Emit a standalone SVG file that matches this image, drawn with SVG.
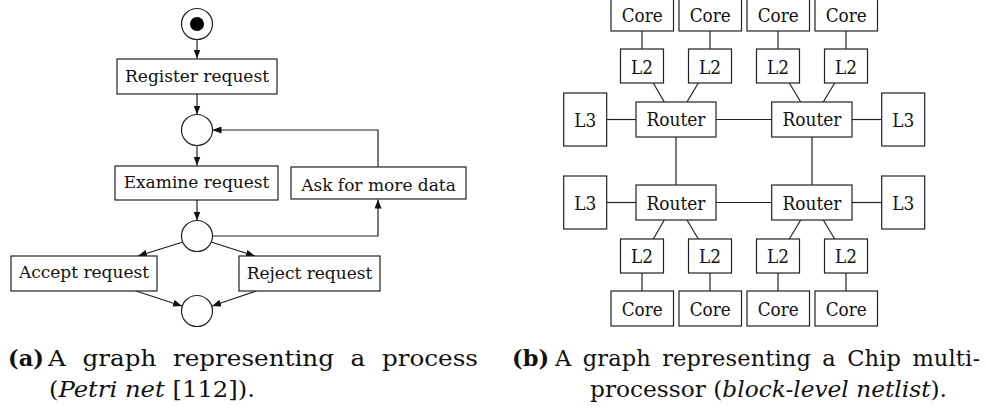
<svg xmlns="http://www.w3.org/2000/svg" width="986" height="413" viewBox="0 0 986 413">
<style>
.bx{fill:#fff;stroke:#222;stroke-width:1.2}
.pl{fill:#fff;stroke:#222;stroke-width:1.2}
.ln{fill:none;stroke:#222;stroke-width:1.2}
.ar{fill:none;stroke:#222;stroke-width:1.2;marker-end:url(#ah)}
.tl{font-family:"DejaVu Serif",serif;font-size:17px;fill:#111;text-anchor:middle}
.tr{font-family:"DejaVu Serif",serif;font-size:19px;fill:#111;text-anchor:middle}
.cap{font-family:"DejaVu Serif",serif;font-size:22.5px;fill:#111}
.b{font-weight:bold}
.i{font-style:italic}
</style>
<defs>
<marker id="ah" markerUnits="userSpaceOnUse" markerWidth="9" markerHeight="7" refX="9" refY="3.5" orient="auto">
<path d="M0,0 L9,3.5 L0,7 z" fill="#111"/>
</marker>
</defs>
<rect width="986" height="413" fill="#fff"/>

<g id="connectors-a">
<line class="ar" x1="197" y1="39.5" x2="197" y2="58.5"/>
<line class="ar" x1="197" y1="94" x2="197" y2="114.5"/>
<line class="ar" x1="197" y1="145.5" x2="197" y2="165.5"/>
<line class="ar" x1="197" y1="200" x2="197" y2="220.5"/>
<line class="ar" x1="183" y1="242" x2="138" y2="256"/>
<line class="ar" x1="211" y1="242" x2="255" y2="256"/>
<line class="ar" x1="136" y1="291" x2="182" y2="306"/>
<line class="ar" x1="256" y1="291" x2="212" y2="306"/>
<path class="ar" d="M212.5,236 H378 V199.5"/>
<path class="ar" d="M378,167 V130 H212.5"/>
</g>

<g id="start"><circle class="pl" cx="197" cy="24" r="15.5"/><circle cx="197" cy="24" r="7" fill="#000"/></g>
<g id="register"><rect class="bx" x="117" y="59" width="160" height="35"/><text class="tl" x="197" y="81.5">Register request</text></g>
<g id="p1"><circle class="pl" cx="197" cy="130" r="15.5"/></g>
<g id="examine"><rect class="bx" x="115" y="166" width="163" height="34"/><text class="tl" x="196.5" y="188.3">Examine request</text></g>
<g id="ask"><rect class="bx" x="291" y="167" width="175" height="32"/><text class="tl" x="378.5" y="190.5">Ask for more data</text></g>
<g id="p2"><circle class="pl" cx="197" cy="236" r="15.5"/></g>
<g id="accept"><rect class="bx" x="11" y="256" width="146" height="35"/><text class="tl" x="84" y="278">Accept request</text></g>
<g id="reject"><rect class="bx" x="239" y="256" width="141" height="35"/><text class="tl" x="309.5" y="278.5">Reject request</text></g>
<g id="p3"><circle class="pl" cx="197" cy="311" r="15.5"/></g>

<g id="connectors-b">
<line class="ln" x1="642" y1="31" x2="642" y2="49"/>
<line class="ln" x1="710" y1="31" x2="710" y2="49"/>
<line class="ln" x1="778" y1="31" x2="778" y2="49"/>
<line class="ln" x1="846" y1="31" x2="846" y2="49"/>
<line class="ln" x1="653.3" y1="83" x2="664.3" y2="102"/>
<line class="ln" x1="698.3" y1="83" x2="687" y2="102"/>
<line class="ln" x1="789.3" y1="83" x2="800.7" y2="102"/>
<line class="ln" x1="834.7" y1="83" x2="823.3" y2="102"/>
<line class="ln" x1="606.7" y1="119.5" x2="636" y2="119.5"/>
<line class="ln" x1="716" y1="119.5" x2="771.7" y2="119.5"/>
<line class="ln" x1="852" y1="119.5" x2="881.7" y2="119.5"/>
<line class="ln" x1="676" y1="137" x2="676" y2="185"/>
<line class="ln" x1="812" y1="137" x2="812" y2="185"/>
<line class="ln" x1="606.7" y1="202.5" x2="636" y2="202.5"/>
<line class="ln" x1="716" y1="202.5" x2="771.7" y2="202.5"/>
<line class="ln" x1="852" y1="202.5" x2="881.7" y2="202.5"/>
<line class="ln" x1="664.3" y1="220" x2="653.3" y2="239"/>
<line class="ln" x1="687" y1="220" x2="698.3" y2="239"/>
<line class="ln" x1="800.7" y1="220" x2="789.3" y2="239"/>
<line class="ln" x1="823.3" y1="220" x2="834.7" y2="239"/>
<line class="ln" x1="642" y1="273" x2="642" y2="291"/>
<line class="ln" x1="710" y1="273" x2="710" y2="291"/>
<line class="ln" x1="778" y1="273" x2="778" y2="291"/>
<line class="ln" x1="846" y1="273" x2="846" y2="291"/>
</g>

<g id="core1"><rect class="bx" x="611" y="-4" width="62.5" height="35"/><text class="tr" x="642.2" y="21.5" textLength="41" lengthAdjust="spacingAndGlyphs">Core</text></g>
<g id="core2"><rect class="bx" x="679" y="-4" width="62.5" height="35"/><text class="tr" x="710.2" y="21.5" textLength="41" lengthAdjust="spacingAndGlyphs">Core</text></g>
<g id="core3"><rect class="bx" x="747" y="-4" width="62.5" height="35"/><text class="tr" x="778.2" y="21.5" textLength="41" lengthAdjust="spacingAndGlyphs">Core</text></g>
<g id="core4"><rect class="bx" x="815" y="-4" width="62.5" height="35"/><text class="tr" x="846.2" y="21.5" textLength="41" lengthAdjust="spacingAndGlyphs">Core</text></g>
<g id="l2a"><rect class="bx" x="620.5" y="49" width="43" height="34"/><text class="tr" x="642" y="73.5" textLength="22" lengthAdjust="spacingAndGlyphs">L2</text></g>
<g id="l2b"><rect class="bx" x="688.5" y="49" width="43" height="34"/><text class="tr" x="710" y="73.5" textLength="22" lengthAdjust="spacingAndGlyphs">L2</text></g>
<g id="l2c"><rect class="bx" x="756.5" y="49" width="43" height="34"/><text class="tr" x="778" y="73.5" textLength="22" lengthAdjust="spacingAndGlyphs">L2</text></g>
<g id="l2d"><rect class="bx" x="824.5" y="49" width="43" height="34"/><text class="tr" x="846" y="73.5" textLength="22" lengthAdjust="spacingAndGlyphs">L2</text></g>
<g id="l3a"><rect class="bx" x="563.7" y="93" width="43" height="53"/><text class="tr" x="585.2" y="126.5" textLength="22" lengthAdjust="spacingAndGlyphs">L3</text></g>
<g id="router1"><rect class="bx" x="636" y="102" width="80" height="35"/><text class="tr" x="676" y="126.3" textLength="59" lengthAdjust="spacingAndGlyphs">Router</text></g>
<g id="router2"><rect class="bx" x="771.7" y="102" width="80.3" height="35"/><text class="tr" x="812" y="126.3" textLength="59" lengthAdjust="spacingAndGlyphs">Router</text></g>
<g id="l3b"><rect class="bx" x="881.7" y="93" width="43" height="53"/><text class="tr" x="903.2" y="126.5" textLength="22" lengthAdjust="spacingAndGlyphs">L3</text></g>
<g id="l3c"><rect class="bx" x="563.7" y="176" width="43" height="53"/><text class="tr" x="585.2" y="209.8" textLength="22" lengthAdjust="spacingAndGlyphs">L3</text></g>
<g id="router3"><rect class="bx" x="636" y="185" width="80" height="35"/><text class="tr" x="676" y="209.8" textLength="59" lengthAdjust="spacingAndGlyphs">Router</text></g>
<g id="router4"><rect class="bx" x="771.7" y="185" width="80.3" height="35"/><text class="tr" x="812" y="209.8" textLength="59" lengthAdjust="spacingAndGlyphs">Router</text></g>
<g id="l3d"><rect class="bx" x="881.7" y="176" width="43" height="53"/><text class="tr" x="903.2" y="209.8" textLength="22" lengthAdjust="spacingAndGlyphs">L3</text></g>
<g id="l2e"><rect class="bx" x="620.5" y="239" width="43" height="34"/><text class="tr" x="642" y="263.3" textLength="22" lengthAdjust="spacingAndGlyphs">L2</text></g>
<g id="l2f"><rect class="bx" x="688.5" y="239" width="43" height="34"/><text class="tr" x="710" y="263.3" textLength="22" lengthAdjust="spacingAndGlyphs">L2</text></g>
<g id="l2g"><rect class="bx" x="756.5" y="239" width="43" height="34"/><text class="tr" x="778" y="263.3" textLength="22" lengthAdjust="spacingAndGlyphs">L2</text></g>
<g id="l2h"><rect class="bx" x="824.5" y="239" width="43" height="34"/><text class="tr" x="846" y="263.3" textLength="22" lengthAdjust="spacingAndGlyphs">L2</text></g>
<g id="core5"><rect class="bx" x="611" y="291" width="62.5" height="35"/><text class="tr" x="642.2" y="316" textLength="41" lengthAdjust="spacingAndGlyphs">Core</text></g>
<g id="core6"><rect class="bx" x="679" y="291" width="62.5" height="35"/><text class="tr" x="710.2" y="316" textLength="41" lengthAdjust="spacingAndGlyphs">Core</text></g>
<g id="core7"><rect class="bx" x="747" y="291" width="62.5" height="35"/><text class="tr" x="778.2" y="316" textLength="41" lengthAdjust="spacingAndGlyphs">Core</text></g>
<g id="core8"><rect class="bx" x="815" y="291" width="62.5" height="35"/><text class="tr" x="846.2" y="316" textLength="41" lengthAdjust="spacingAndGlyphs">Core</text></g>

<g id="caption-a">
<text class="cap b" x="8" y="366">(a)</text>
<text class="cap" x="48" y="366" style="word-spacing:8px" textLength="430" lengthAdjust="spacingAndGlyphs">A graph representing a process</text>
<text class="cap" x="49" y="396.5" textLength="206" lengthAdjust="spacingAndGlyphs">(<tspan class="i">Petri net</tspan> [112]).</text>
</g>
<g id="caption-b">
<text class="cap b" x="512" y="366">(b)</text>
<text class="cap" x="555" y="366" style="word-spacing:4px" textLength="425" lengthAdjust="spacing">A graph representing a Chip multi-</text>
<text class="cap" x="590" y="396.5" textLength="357" lengthAdjust="spacingAndGlyphs">processor (<tspan class="i">block-level netlist</tspan>).</text>
</g>
</svg>
